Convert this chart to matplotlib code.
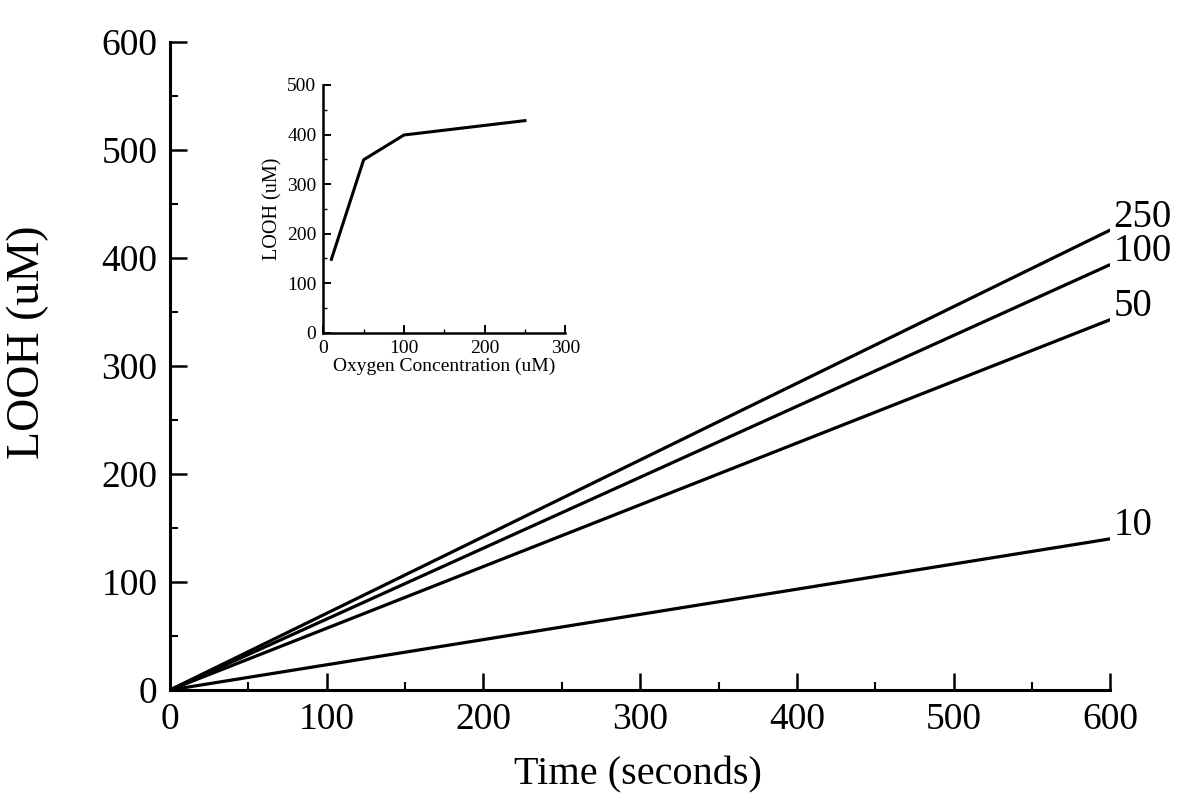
import numpy as np
import matplotlib
matplotlib.use("Agg")
import matplotlib.pyplot as plt
from matplotlib.ticker import MultipleLocator

plt.rcParams['font.family'] = ['Liberation Serif', 'DejaVu Serif']

# main panel: LOOH vs time for each oxygen concentration
time = [0, 600]
oxygen_labels = ['250', '100', '50', '10']
looh_end = [426, 394, 343, 140]

# inset: LOOH at 600 s vs oxygen concentration
o2_conc = [10, 50, 100, 250]
looh_600 = [148, 349, 399, 428]

fig = plt.figure(figsize=(11.8, 7.94), dpi=100)
ax = fig.add_axes([0.144, 0.131, 0.797, 0.816])

for lab, yend in zip(oxygen_labels, looh_end):
    ax.plot(time, [0, yend], color='black', lw=2.3, solid_capstyle='butt')
    ax.annotate(lab, (time[-1], yend), xytext=(2, -4), textcoords='offset points',
                ha='left', va='bottom', fontsize=28, annotation_clip=False)

ax.set_xlim(0, 600)
ax.set_ylim(0, 600)
ax.xaxis.set_major_locator(MultipleLocator(100))
ax.xaxis.set_minor_locator(MultipleLocator(50))
ax.yaxis.set_major_locator(MultipleLocator(100))
ax.yaxis.set_minor_locator(MultipleLocator(50))
for s in ['top', 'right']:
    ax.spines[s].set_visible(False)
for s in ['left', 'bottom']:
    ax.spines[s].set_linewidth(2.2)
ax.tick_params(axis='both', which='major', direction='in', length=12, width=1.8,
               labelsize=27, pad=9)
ax.tick_params(axis='both', which='minor', direction='in', length=6, width=1.5)
ax.set_xlabel('Time (seconds)', fontsize=29)
ax.set_ylabel('LOOH (uM)', fontsize=33)
ax.xaxis.set_label_coords(0.498, -0.103)
ax.yaxis.set_label_coords(-0.129, 0.537)

# inset
ins = fig.add_axes([0.274, 0.581, 0.205, 0.312])
ins.plot(o2_conc, looh_600, color='black', lw=2.2)
ins.set_xlim(0, 300)
ins.set_ylim(0, 500)
ins.xaxis.set_major_locator(MultipleLocator(100))
ins.xaxis.set_minor_locator(MultipleLocator(50))
ins.yaxis.set_major_locator(MultipleLocator(100))
ins.yaxis.set_minor_locator(MultipleLocator(50))
for s in ['top', 'right']:
    ins.spines[s].set_visible(False)
for s in ['left', 'bottom']:
    ins.spines[s].set_linewidth(1.8)
ins.tick_params(axis='both', which='major', direction='in', length=6, width=1.4,
                labelsize=14, pad=5)
ins.tick_params(axis='both', which='minor', direction='in', length=3, width=1.0)
ins.set_xlabel('Oxygen Concentration (uM)', fontsize=14, labelpad=1)
ins.set_ylabel('LOOH (uM)', fontsize=14.5, labelpad=3)

fig.savefig('out.png', dpi=100)
